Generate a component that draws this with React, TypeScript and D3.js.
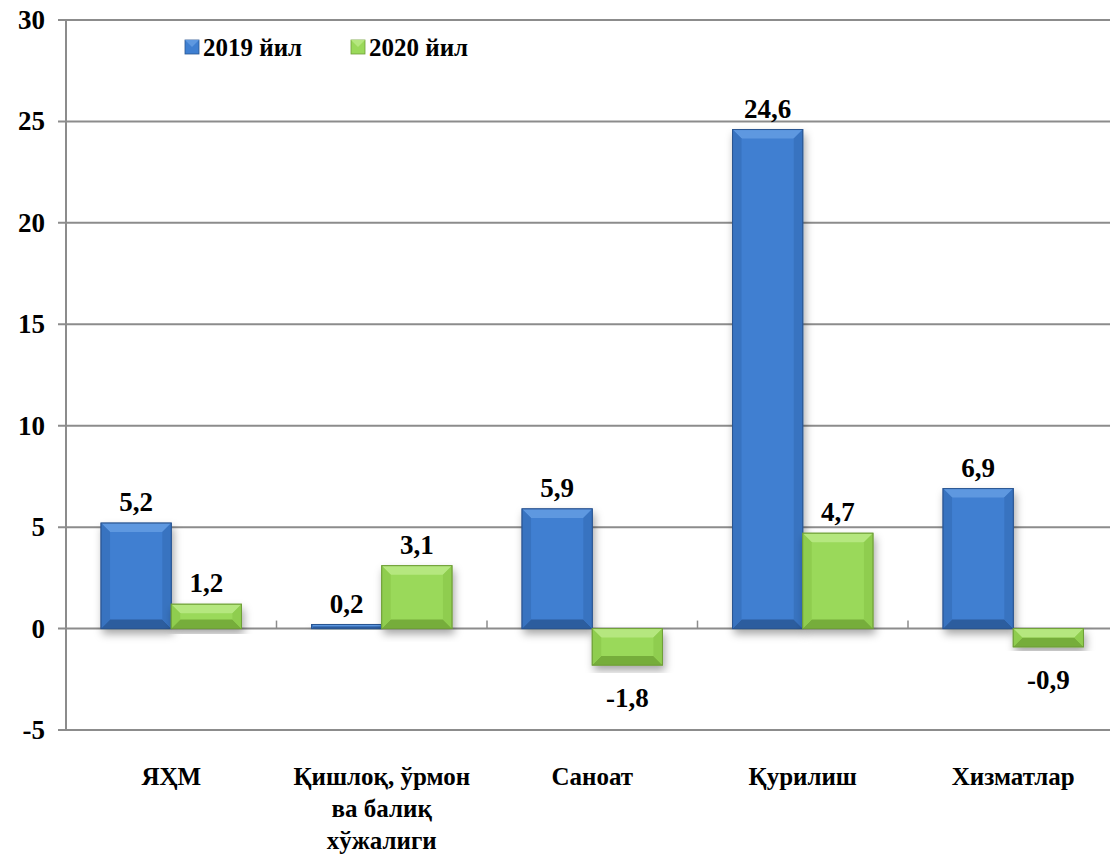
import * as d3 from "d3";

const categories = ["ЯҲМ", "Қишлоқ, ўрмон ва балиқ хўжалиги", "Саноат", "Қурилиш", "Хизматлар"];
const categoryLines = [["ЯҲМ"], ["Қишлоқ, ўрмон", "ва балиқ", "хўжалиги"], ["Саноат"], ["Қурилиш"], ["Хизматлар"]];
const seriesNames = ["2019 йил", "2020 йил"];
const values2019 = [5.2, 0.2, 5.9, 24.6, 6.9];
const values2020 = [1.2, 3.1, -1.8, 4.7, -0.9];
const yTicks = [-5, 0, 5, 10, 15, 20, 25, 30];

const W = 1110;
const H = 858;
const FONT = "Tinos";

const palettes = [
  { main: "#3f7fd1", top: "#5e98e0", side: "#3873c0", bottom: "#2c5d9e", edge: "#2a5591" },
  { main: "#9ad95a", top: "#b5e77f", side: "#8fcd4f", bottom: "#76ad3b", edge: "#6f9f38" },
];

const left = 66;
const bandW = 210.5;
const x = d3
  .scaleBand()
  .domain(categories)
  .range([left, left + bandW * categories.length])
  .paddingInner(0.333)
  .paddingOuter(0.1665);
const sub = d3.scaleBand().domain(seriesNames).range([0, x.bandwidth()]);
const y = d3.scaleLinear().domain([-5, 30]).range([730, 20]);

function Bar({ cat, si, v }: { cat: string; si: number; v: number }) {
  const p = palettes[si];
  const x0 = x(cat)! + sub(seriesNames[si])!;
  const w = sub.bandwidth();
  const y0 = Math.min(y(v), y(0));
  const h = Math.abs(y(v) - y(0));
  const x1 = x0 + w;
  const y1 = y0 + h;
  const b = Math.min(9, h / 2, w / 2);
  return (
    <g>
      <rect x={x0} y={y0} width={w} height={h} fill={p.main} stroke={p.edge} strokeWidth={1} filter="url(#shadow)" />
      {h > 3 && (
        <g>
          <polygon points={`${x0},${y0} ${x1},${y0} ${x1 - b},${y0 + b} ${x0 + b},${y0 + b}`} fill={p.top} />
          <polygon points={`${x0},${y1} ${x1},${y1} ${x1 - b},${y1 - b} ${x0 + b},${y1 - b}`} fill={p.bottom} />
          <polygon points={`${x0},${y0} ${x0 + b},${y0 + b} ${x0 + b},${y1 - b} ${x0},${y1}`} fill={p.side} />
          <polygon points={`${x1},${y0} ${x1 - b},${y0 + b} ${x1 - b},${y1 - b} ${x1},${y1}`} fill={p.side} />
          <rect x={x0} y={y0} width={w} height={h} fill="none" stroke={p.edge} strokeWidth={1} />
        </g>
      )}
      <text
        x={x0 + w / 2}
        y={v >= 0 ? y(v) - 12 : y(v) + 42}
        textAnchor="middle"
        style={{ fontFamily: FONT, fontWeight: "bold", fontSize: 27 }}
      >
        {String(v).replace(".", ",")}
      </text>
    </g>
  );
}

export default function App() {
  const series = [values2019, values2020];
  const legendX = [185, 351];
  return (
    <div style={{ position: "absolute", left: 0, top: 0, background: "#fff" }}>
      <svg width={W} height={H}>
        <defs>
          <filter id="shadow" x="-20%" y="-20%" width="140%" height="140%">
            <feDropShadow dx={2} dy={5} stdDeviation={4} floodColor="#000" floodOpacity={0.35} />
          </filter>
        </defs>
        {yTicks.map((t) => (
          <line key={t} x1={58} x2={W} y1={y(t)} y2={y(t)} stroke="#8c8c8c" strokeWidth={2} />
        ))}
        <line x1={left} x2={left} y1={y(30)} y2={y(-5)} stroke="#8c8c8c" strokeWidth={2} />
        {d3.range(1, categories.length).map((i) => (
          <line key={i} x1={left + i * bandW} x2={left + i * bandW} y1={y(0) - 8} y2={y(0)} stroke="#8c8c8c" strokeWidth={1.5} />
        ))}
        {yTicks.map((t) => (
          <text key={t} x={45} y={y(t) + 9} textAnchor="end" style={{ fontFamily: FONT, fontWeight: "bold", fontSize: 27 }}>
            {String(t)}
          </text>
        ))}
        {series.map((vals, si) => (
          <g key={si}>
            {vals.map((v, ci) => (
              <Bar key={ci} cat={categories[ci]} si={si} v={v} />
            ))}
          </g>
        ))}
        {categoryLines.map((lines, ci) =>
          lines.map((line, li) => (
            <text
              key={`${ci}-${li}`}
              x={x(categories[ci])! + x.bandwidth() / 2}
              y={785 + li * 32}
              textAnchor="middle"
              style={{ fontFamily: FONT, fontWeight: "bold", fontSize: 25 }}
            >
              {line}
            </text>
          ))
        )}
        {seriesNames.map((name, si) => {
          const p = palettes[si];
          const lx = legendX[si];
          return (
            <g key={name}>
              <rect x={lx} y={40} width={14} height={14} fill={p.main} stroke={p.edge} strokeWidth={0.8} />
              <polygon points={`${lx},40 ${lx + 14},40 ${lx + 7},47`} fill={p.top} />
              <text x={lx + 18} y={56} style={{ fontFamily: FONT, fontWeight: "bold", fontSize: 25 }}>
                {name}
              </text>
            </g>
          );
        })}
      </svg>
    </div>
  );
}
